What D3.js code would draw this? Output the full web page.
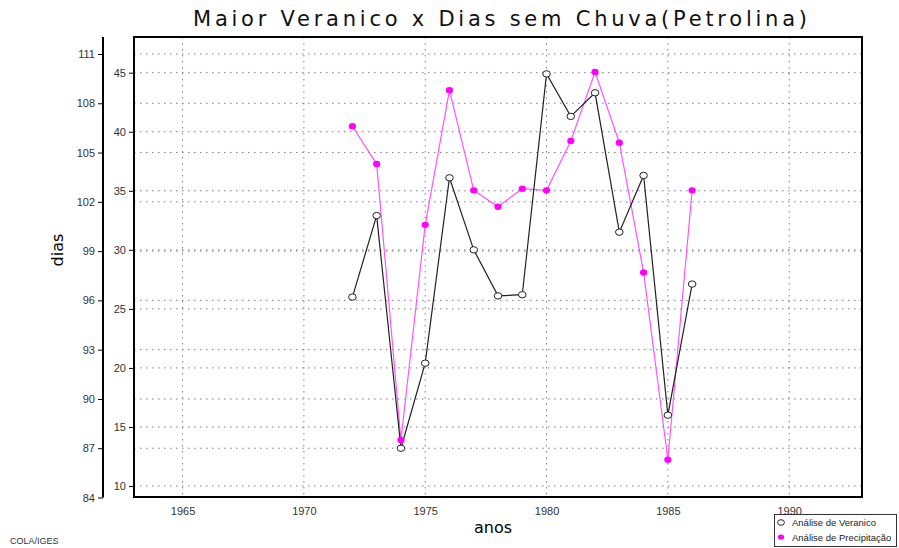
<!DOCTYPE html>
<html>
<head>
<meta charset="utf-8">
<script src="https://cdn.jsdelivr.net/npm/d3@7"></script>
<style>
  body { margin: 0; background: #fff; }
  svg { display: block; }
</style>
</head>
<body>
<div class="chart"></div>
<script>
const anos = [1972, 1973, 1974, 1975, 1976, 1977, 1978, 1979, 1980, 1981, 1982, 1983, 1984, 1985, 1986];
const veranico = [26, 32.9, 13.2, 20.4, 36.1, 30, 26.1, 26.2, 44.9, 41.3, 43.3, 31.5, 36.3, 16, 27.1];
const precipitacao = [106.6, 104.3, 87.5, 100.6, 108.8, 102.7, 101.7, 102.8, 102.7, 105.7, 109.9, 105.6, 97.7, 86.3, 102.7];
const xTicks = [1965, 1970, 1975, 1980, 1985, 1990];
const outerTicks = [84, 87, 90, 93, 96, 99, 102, 105, 108, 111];
const innerTicks = [10, 15, 20, 25, 30, 35, 40, 45];

const width = 899, height = 548;
const frame = { left: 134, right: 862, top: 37, bottom: 497 };
const gridColor = '#7a7a9a', magenta = '#ff00ff';

const svg = d3.select('.chart')
  .append('svg')
  .attr('width', width)
  .attr('height', height)
  .style('font-family', '"Liberation Sans", Arial, sans-serif');

const x = d3.scaleLinear().domain([1963, 1993]).range([frame.left, frame.right]);
const yOuter = d3.scaleLinear().domain([84, 111]).range([497.5, 54]);
const yInner = d3.scaleLinear().domain([10, 45]).range([486, 72.7]);

// title
svg.append('text')
  .attr('x', 500).attr('y', 26)
  .attr('text-anchor', 'middle')
  .attr('textLength', 614).attr('lengthAdjust', 'spacing')
  .attr('font-family', '"DejaVu Sans", sans-serif')
  .attr('font-size', 21)
  .attr('fill', '#111')
  .text('Maior Veranico x Dias sem Chuva(Petrolina)');

// grid
const grid = svg.append('g')
  .attr('stroke', gridColor)
  .attr('stroke-width', 1)
  .attr('stroke-dasharray', '1.5,4.5');
grid.selectAll('.vg').data(xTicks).join('line')
  .attr('x1', d => x(d)).attr('x2', d => x(d))
  .attr('y1', frame.top).attr('y2', frame.bottom);
grid.selectAll('.ho').data(outerTicks).join('line')
  .attr('x1', frame.left).attr('x2', frame.right)
  .attr('y1', d => yOuter(d)).attr('y2', d => yOuter(d));
grid.selectAll('.hi').data(innerTicks).join('line')
  .attr('x1', frame.left).attr('x2', frame.right)
  .attr('y1', d => yInner(d)).attr('y2', d => yInner(d));

// frame
svg.append('rect')
  .attr('x', frame.left).attr('y', frame.top)
  .attr('width', frame.right - frame.left)
  .attr('height', frame.bottom - frame.top)
  .attr('fill', 'none')
  .attr('stroke', '#000')
  .attr('stroke-width', 2);

// outer axis (84..111)
const outerAxis = svg.append('g')
  .attr('transform', 'translate(103,0)')
  .call(d3.axisLeft(yOuter).tickValues(outerTicks).tickSize(5).tickPadding(3).tickSizeOuter(0));
outerAxis.select('.domain').attr('d', `M0,${frame.top}V${yOuter(84)}`).attr('stroke-width', 2);

// inner axis (10..45)
const innerAxis = svg.append('g')
  .attr('transform', `translate(${frame.left},0)`)
  .call(d3.axisLeft(yInner).tickValues(innerTicks).tickSize(5).tickPadding(3));
innerAxis.select('.domain').remove();

// x axis labels
const xAxis = svg.append('g')
  .attr('transform', `translate(0,${frame.bottom})`)
  .call(d3.axisBottom(x).tickValues(xTicks).tickFormat(d3.format('d')).tickSize(0).tickPadding(10));
xAxis.select('.domain').remove();

svg.selectAll('.tick text')
  .attr('font-family', '"Liberation Sans", Arial, sans-serif')
  .attr('font-size', 11)
  .attr('fill', '#333');

// axis titles
svg.append('text')
  .attr('x', 493).attr('y', 533)
  .attr('text-anchor', 'middle')
  .attr('font-family', '"DejaVu Sans", sans-serif')
  .attr('font-size', 16)
  .text('anos');
svg.append('text')
  .attr('transform', 'translate(63,250) rotate(-90)')
  .attr('text-anchor', 'middle')
  .attr('font-family', '"DejaVu Sans", sans-serif')
  .attr('font-size', 16)
  .text('dias');

// lines
const lineInner = d3.line().x((d, i) => x(anos[i])).y(d => yInner(d));
const lineOuter = d3.line().x((d, i) => x(anos[i])).y(d => yOuter(d));

svg.append('path')
  .datum(precipitacao)
  .attr('d', lineOuter)
  .attr('fill', 'none')
  .attr('stroke', '#ff55ff')
  .attr('stroke-width', 1.2);
svg.append('path')
  .datum(veranico)
  .attr('d', lineInner)
  .attr('fill', 'none')
  .attr('stroke', '#222')
  .attr('stroke-width', 1.2);

svg.selectAll('.pp').data(precipitacao).join('ellipse')
  .attr('cx', (d, i) => x(anos[i]))
  .attr('cy', d => yOuter(d))
  .attr('rx', 3.6).attr('ry', 3.2)
  .attr('fill', magenta);
svg.selectAll('.vp').data(veranico).join('ellipse')
  .attr('cx', (d, i) => x(anos[i]))
  .attr('cy', d => yInner(d))
  .attr('rx', 3.8).attr('ry', 3.2)
  .attr('fill', '#fff')
  .attr('stroke', '#222')
  .attr('stroke-width', 1);

// footer
svg.append('text')
  .attr('x', 10).attr('y', 544)
  .attr('font-size', 9)
  .attr('fill', '#333')
  .text('COLA/IGES');

// legend
const legend = svg.append('g');
legend.append('rect')
  .attr('x', 774.5).attr('y', 514.5)
  .attr('width', 122).attr('height', 32)
  .attr('fill', '#fff')
  .attr('stroke', '#333');
legend.append('ellipse')
  .attr('cx', 781).attr('cy', 522.5)
  .attr('rx', 3.4).attr('ry', 2.8)
  .attr('fill', '#fff').attr('stroke', '#222');
legend.append('text')
  .attr('x', 792).attr('y', 526)
  .attr('font-size', 9.5).attr('fill', '#222')
  .text('Análise de Veranico');
legend.append('ellipse')
  .attr('cx', 781).attr('cy', 537)
  .attr('rx', 3.2).attr('ry', 2.6)
  .attr('fill', magenta);
legend.append('text')
  .attr('x', 792).attr('y', 540.5)
  .attr('font-size', 9.5).attr('fill', '#222')
  .text('Análise de Precipitação');
</script>
</body>
</html>
